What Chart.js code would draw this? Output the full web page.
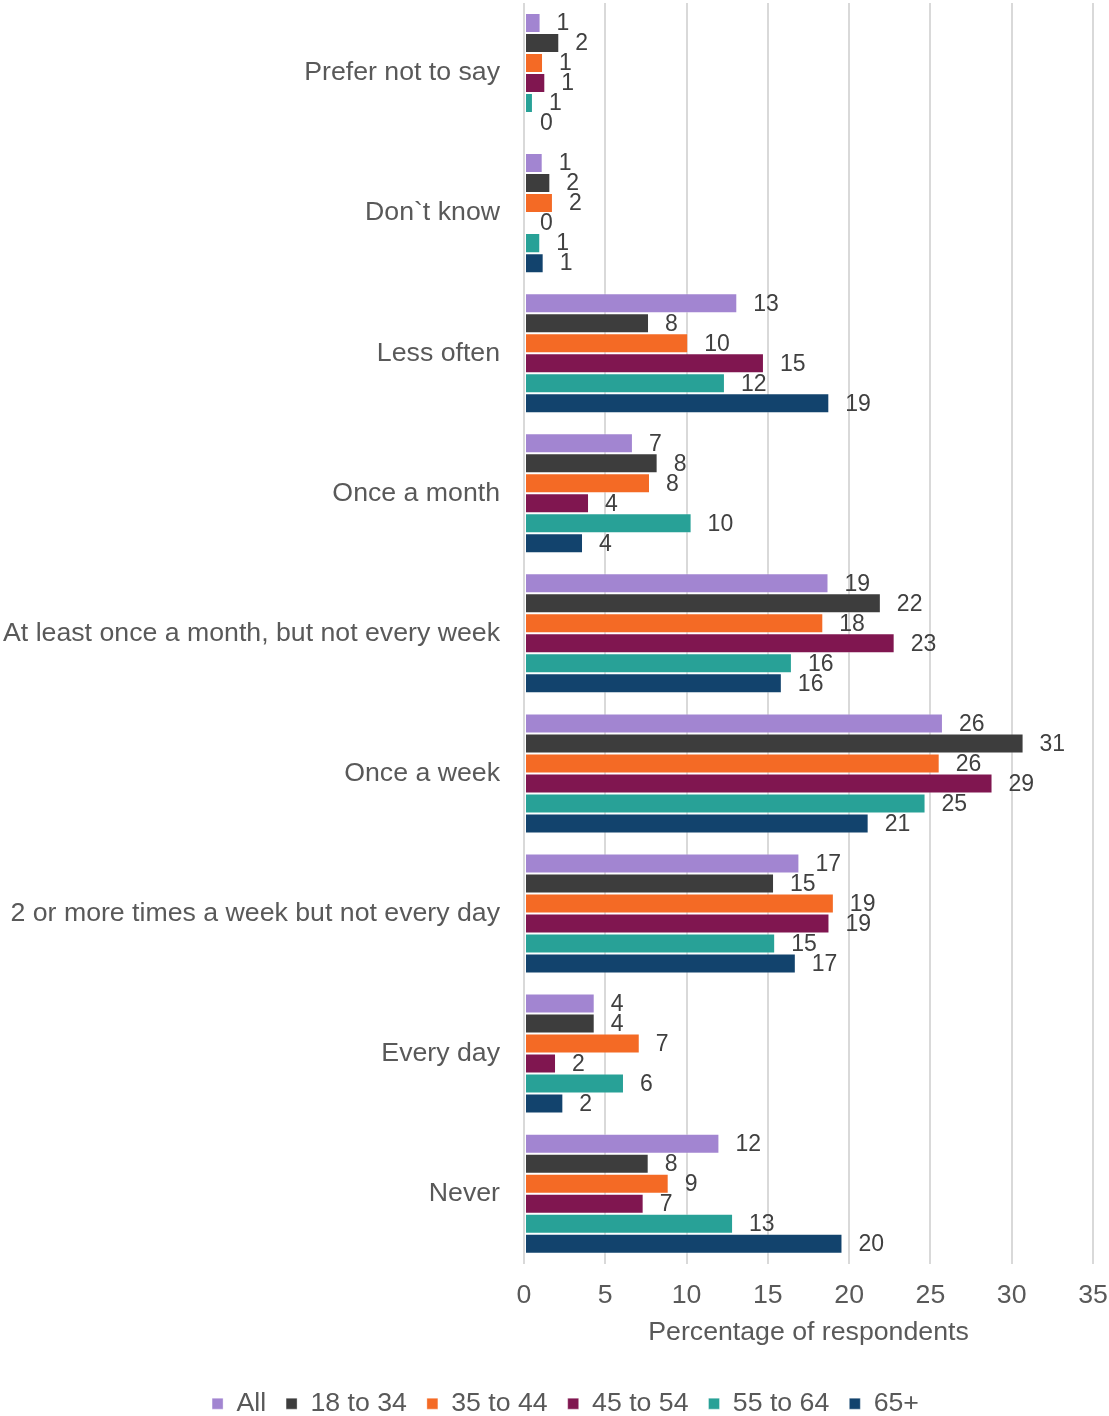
<!DOCTYPE html>
<html>
<head>
<meta charset="utf-8">
<title>How often respondents ... by age group</title>
<script src="https://cdn.jsdelivr.net/npm/chart.js@4/dist/chart.umd.min.js"></script>
<style>
  html, body { margin: 0; padding: 0; background: #ffffff; }
  #wrap { width: 1109px; height: 1416px; }
</style>
</head>
<body>
<div id="wrap"><canvas id="chart" width="1109" height="1416"></canvas></div>
<script>
// Frequency answers, top to bottom
const categories = [
  "Prefer not to say",
  "Don`t know",
  "Less often",
  "Once a month",
  "At least once a month, but not every week",
  "Once a week",
  "2 or more times a week but not every day",
  "Every day",
  "Never"
];

// Percentage of respondents in each group
const allAges   = [1.02, 1.15, 13.12, 6.70, 18.73, 25.77, 16.94, 4.35, 12.02];
const age18to34 = [2.17, 1.62, 7.69, 8.22, 21.95, 30.73, 15.38, 4.35, 7.67];
const age35to44 = [1.17, 1.78, 10.10, 7.75, 18.41, 25.57, 19.06, 7.12, 8.90];
const age45to54 = [1.31, 0.00, 14.76, 4.00, 22.80, 28.82, 18.79, 1.97, 7.36];
const age55to64 = [0.55, 1.00, 12.36, 10.31, 16.48, 24.70, 15.45, 6.15, 12.86];
const age65plus = [0.00, 1.21, 18.78, 3.63, 15.86, 21.20, 16.72, 2.42, 19.59];

const seriesNames = ["All", "18 to 34", "35 to 44", "45 to 54", "55 to 64", "65+"];
const seriesValues = [allAges, age18to34, age35to44, age45to54, age55to64, age65plus];
const seriesColours = ["#A285D1", "#3D3D3D", "#F46A25", "#801650", "#28A197", "#12436D"];

const xTicks = [0, 5, 10, 15, 20, 25, 30, 35];
const axisTitle = "Percentage of respondents";

const FONT = "'Liberation Sans', Arial, Helvetica, sans-serif";
const TEXT_SIZE = 26.7;

// Writes the rounded value just past the end of every bar
const valueLabels = {
  id: "valueLabels",
  afterDatasetsDraw(chart) {
    const ctx = chart.ctx;
    ctx.save();
    ctx.font = "23px " + FONT;
    ctx.fillStyle = "#404040";
    ctx.textAlign = "left";
    ctx.textBaseline = "middle";
    chart.data.datasets.forEach((ds, i) => {
      const meta = chart.getDatasetMeta(i);
      meta.data.forEach((bar, j) => {
        const v = ds.data[j];
        ctx.fillText(Math.round(v).toString(), bar.x + 16, bar.y + 1);
      });
    });
    ctx.restore();
  }
};

// Nudges the legend row under the plot
const legendPlacement = {
  id: "legendPlacement",
  afterLayout(chart) {
    const lg = chart.legend;
    if (!lg) return;
    const dx = 11, dy = 11;
    lg.left += dx; lg.right += dx;
    lg.top += dy; lg.bottom += dy;
  }
};

new Chart(document.getElementById("chart"), {
  type: "bar",
  data: {
    labels: categories,
    datasets: seriesNames.map((name, i) => ({
      label: name,
      data: seriesValues[i],
      backgroundColor: seriesColours[i],
      borderColor: "rgba(255,255,255,0.35)",
      borderWidth: 1,
      borderSkipped: false,
      categoryPercentage: 0.857,
      barPercentage: 1.0
    }))
  },
  options: {
    indexAxis: "y",
    responsive: false,
    animation: false,
    devicePixelRatio: 1,
    layout: { padding: { top: 3, right: 0, left: 0, bottom: 0 } },
    scales: {
      x: {
        type: "linear",
        min: 0,
        max: 35,
        afterBuildTicks(scale) { scale.ticks = xTicks.map(v => ({ value: v })); },
        afterFit(scale) {
          scale.height = 95.6;
          scale.paddingLeft = 0;
          scale.paddingRight = 16;
        },
        ticks: { color: "#595959", font: { family: FONT, size: TEXT_SIZE }, padding: 16 },
        grid: { color: "#d9d9d9", lineWidth: 2, drawTicks: false },
        border: { display: false },
        title: {
          display: true,
          text: axisTitle,
          color: "#595959",
          font: { family: FONT, size: TEXT_SIZE },
          padding: { top: 0, bottom: 11 }
        }
      },
      y: {
        type: "category",
        grid: { display: false, drawTicks: false },
        border: { display: false },
        ticks: { color: "#595959", font: { family: FONT, size: TEXT_SIZE }, padding: 24, autoSkip: false },
        afterFit(scale) {
          scale.width = 524;
          scale.paddingTop = 0;
          scale.paddingBottom = 0;
        }
      }
    },
    plugins: {
      legend: {
        position: "bottom",
        labels: {
          color: "#595959",
          font: { family: FONT, size: TEXT_SIZE },
          boxWidth: 11,
          boxHeight: 11,
          padding: 20
        }
      },
      tooltip: { enabled: false }
    }
  },
  plugins: [valueLabels, legendPlacement]
});
</script>
</body>
</html>
